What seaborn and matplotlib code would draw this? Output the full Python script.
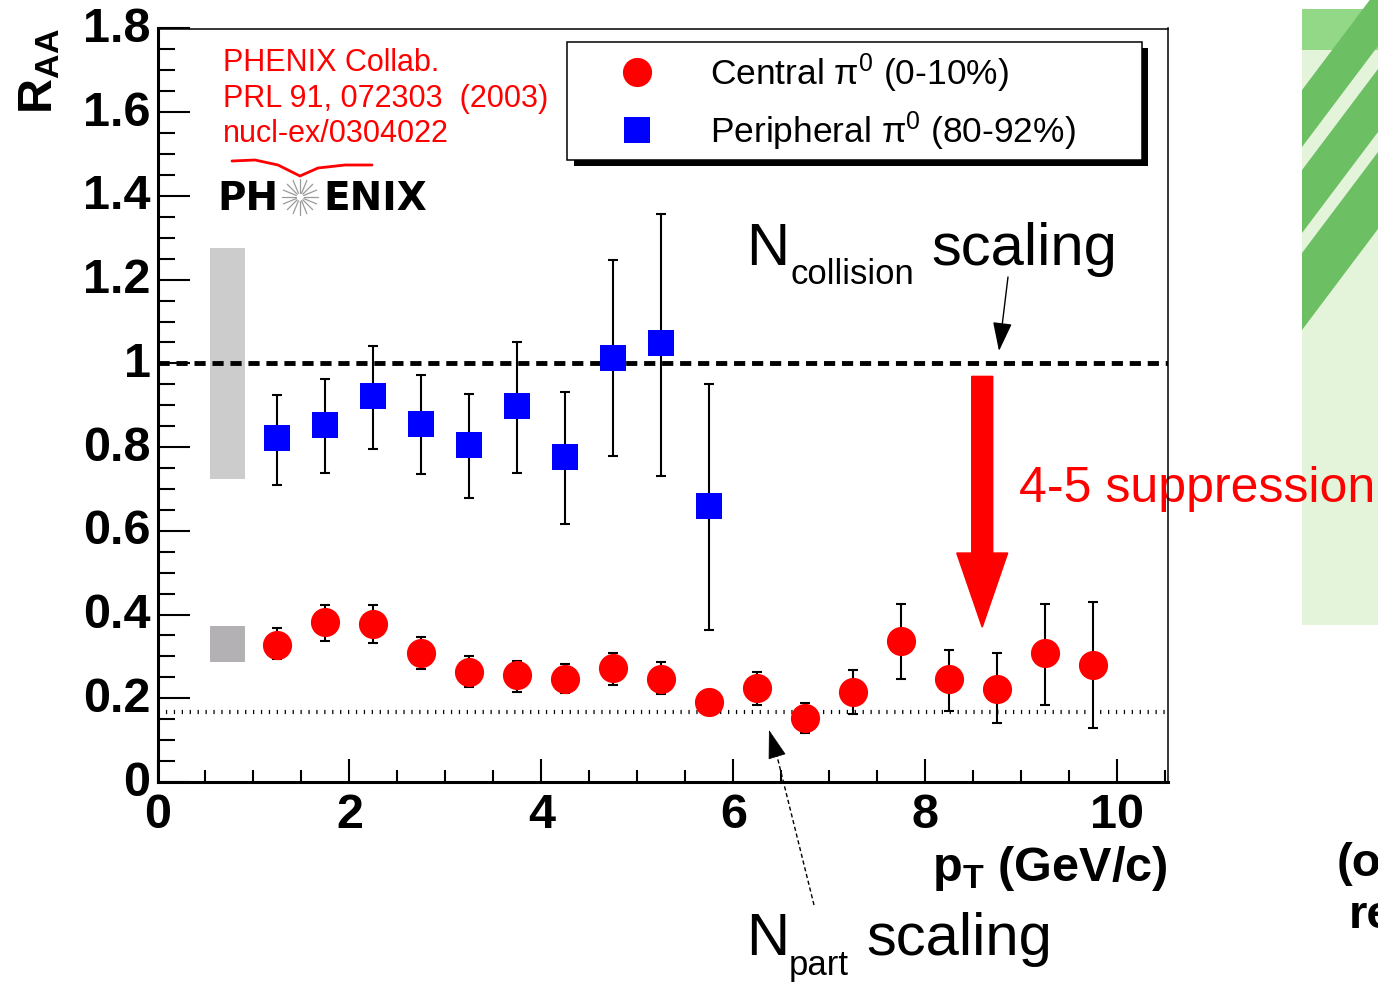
import numpy as np
import pandas as pd
import seaborn as sns
import matplotlib.pyplot as plt
from matplotlib.patches import Rectangle, Polygon, FancyArrow
from matplotlib.lines import Line2D
from matplotlib.transforms import ScaledTranslation

# ---- data ----
pt_central = [1.25, 1.75, 2.25, 2.75, 3.25, 3.75, 4.25, 4.75, 5.25,
              5.75, 6.25, 6.75, 7.25, 7.75, 8.25, 8.75, 9.25, 9.75]
raa_central = [0.327, 0.382, 0.377, 0.307, 0.263, 0.255, 0.247, 0.272, 0.246,
               0.190, 0.224, 0.153, 0.214, 0.338, 0.245, 0.223, 0.307, 0.280]
err_central_lo = [0.034, 0.045, 0.045, 0.036, 0.036, 0.041, 0.035, 0.041, 0.036,
                  0.030, 0.040, 0.035, 0.052, 0.093, 0.075, 0.083, 0.123, 0.152]
err_central_hi = [0.041, 0.040, 0.045, 0.039, 0.039, 0.034, 0.035, 0.037, 0.040,
                  0.030, 0.039, 0.035, 0.053, 0.087, 0.071, 0.084, 0.118, 0.149]

pt_periph = [1.25, 1.75, 2.25, 2.75, 3.25, 3.75, 4.25, 4.75, 5.25, 5.75]
raa_periph = [0.821, 0.852, 0.921, 0.856, 0.804, 0.899, 0.777, 1.013, 1.048, 0.659]
err_periph_lo = [0.112, 0.113, 0.125, 0.121, 0.125, 0.160, 0.160, 0.234, 0.317, 0.296]
err_periph_hi = [0.103, 0.111, 0.121, 0.117, 0.124, 0.152, 0.155, 0.234, 0.308, 0.291]

# normalisation uncertainty boxes
box_centres = [1.0, 0.33]
box_halfheights = [0.275, 0.043]
box_colors = ['#cccccc', '#b3b1b3']
box_x = 0.73
box_width = 0.37

ncoll_level = 1.0
npart_level = 0.168

xticks = [0, 2, 4, 6, 8, 10]
yticks = [0, 0.2, 0.4, 0.6, 0.8, 1.0, 1.2, 1.4, 1.6, 1.8]
ytick_labels = ['0', '0.2', '0.4', '0.6', '0.8', '1', '1.2', '1.4', '1.6', '1.8']

central = pd.DataFrame({'pt': pt_central, 'raa': raa_central})
periph = pd.DataFrame({'pt': pt_periph, 'raa': raa_periph})

# ---- style ----
sns.set_theme(style='white')
plt.rcParams['font.family'] = ['Liberation Sans', 'DejaVu Sans']
plt.rcParams['mathtext.default'] = 'regular'
plt.rcParams['text.color'] = 'black'
plt.rcParams['xtick.color'] = 'black'
plt.rcParams['ytick.color'] = 'black'

W, H = 1378, 982


def fx(p):
    return p / W


def fy(p):
    return 1 - p / H


fig = plt.figure(figsize=(W / 100, H / 100), dpi=100)
fig.patch.set_facecolor('white')
ax = fig.add_axes([fx(157.5), fy(782), (1168 - 157.5) / W, (782 - 28.5) / H])
ax.set_facecolor('white')

# grey boxes
for c, hh, col in zip(box_centres, box_halfheights, box_colors):
    ax.bar(box_x, 2 * hh, bottom=c - hh, width=box_width, color=col,
           edgecolor='none', zorder=1)

# reference lines
ax.axhline(ncoll_level, color='black', lw=3.5, dashes=(2.3, 1.4), zorder=2)
ax.axhline(npart_level, color='black', lw=3, dashes=(0.3, 1.6), zorder=2)

# error bars then markers
ax.errorbar(pt_periph, raa_periph, yerr=[err_periph_lo, err_periph_hi], fmt='none',
            ecolor='black', elinewidth=1.5, capsize=3.5, capthick=1.5, zorder=3)
ax.errorbar(pt_central, raa_central, yerr=[err_central_lo, err_central_hi], fmt='none',
            ecolor='black', elinewidth=1.5, capsize=3.5, capthick=1.5, zorder=3)
sns.scatterplot(data=periph, x='pt', y='raa', marker='s', s=18.5 ** 2, color='#0000ff',
                linewidth=0, ax=ax, zorder=4)
sns.scatterplot(data=central, x='pt', y='raa', marker='o', s=21 ** 2, color='#ff0000',
                linewidth=0, ax=ax, zorder=4)

# red suppression arrow
ax.add_patch(FancyArrow(8.594, 0.969, 0, 0.370 - 0.969, width=0.219, head_width=0.531,
                        head_length=0.177, length_includes_head=True, color='#ff0000',
                        zorder=5, clip_on=False))

ax.set_xlim(0, 10.53)
ax.set_ylim(0, 1.8)
ax.set_xlabel('')
ax.set_ylabel('')
ax.set_xticks(xticks)
ax.set_xticklabels([str(t) for t in xticks], fontsize=35, fontweight='bold')
ax.set_xticks(np.arange(0.5, 10.51, 0.5), minor=True)
ax.set_yticks(yticks)
ax.set_yticklabels(ytick_labels, fontsize=35, fontweight='bold')
ax.set_yticks(np.arange(0.05, 1.8, 0.05), minor=True)
ax.tick_params(axis='x', which='major', direction='in', length=16.5, width=1.5,
               color='black', labelcolor='black', pad=8, bottom=True, top=False)
ax.tick_params(axis='x', which='minor', direction='in', length=9, width=1.5,
               color='black', bottom=True, top=False)
ax.tick_params(axis='y', which='major', direction='in', length=23, width=1.5,
               color='black', labelcolor='black', pad=5, left=True, right=False)
ax.tick_params(axis='y', which='minor', direction='in', length=12, width=1.5,
               color='black', left=True, right=False)
# y labels sit a little above their ticks, as in the original
lift = ScaledTranslation(0, 4 / 100, fig.dpi_scale_trans)
for lab in ax.get_yticklabels():
    lab.set_transform(lab.get_transform() + lift)
for side in ['left', 'bottom']:
    ax.spines[side].set_linewidth(2.2)
    ax.spines[side].set_color('black')
for side in ['top', 'right']:
    ax.spines[side].set_linewidth(1.1)
    ax.spines[side].set_color('black')

# axis titles
fig.text(fx(40), fy(28), 'R$_{AA}$', rotation=90, ha='center', va='top',
         fontsize=35, fontweight='bold')
fig.text(fx(1168), fy(881), 'p$_T$ (GeV/c)', ha='right', va='baseline',
         fontsize=35, fontweight='bold')

# legend box with shadow
fig.patches.append(Rectangle((fx(574), fy(166)), (1148 - 574) / W, (166 - 48) / H,
                             transform=fig.transFigure, fc='black', ec='none', zorder=5))
fig.patches.append(Rectangle((fx(567), fy(160)), (1142 - 567) / W, (160 - 42) / H,
                             transform=fig.transFigure, fc='white', ec='black', lw=1.1,
                             zorder=6))
fig.add_artist(Line2D([fx(637)], [fy(72)], marker='o', ms=21, color='#ff0000',
                      mew=0, transform=fig.transFigure, zorder=7))
fig.add_artist(Line2D([fx(637)], [fy(130)], marker='s', ms=18.5, color='#0000ff',
                      mew=0, transform=fig.transFigure, zorder=7))
fig.text(fx(710), fy(85), 'Central π$^0$ (0-10%)', fontsize=25.5, va='baseline', zorder=8)
fig.text(fx(710), fy(143), 'Peripheral π$^0$ (80-92%)', fontsize=25.5, va='baseline',
         zorder=8)

# reference text
red = '#ff0000'
fig.text(fx(223), fy(71), 'PHENIX Collab.', color=red, fontsize=22, va='baseline')
fig.text(fx(223), fy(107), 'PRL 91, 072303  (2003)', color=red, fontsize=22, va='baseline')
fig.text(fx(223), fy(142), 'nucl-ex/0304022', color=red, fontsize=22, va='baseline')

# PHENIX logo
swoosh_x = [232, 255, 278, 300, 318, 345, 372]
swoosh_y = [161, 160, 165, 176, 168, 165, 165]
fig.add_artist(Line2D([fx(v) for v in swoosh_x], [fy(v) for v in swoosh_y], color=red,
                      lw=2, transform=fig.transFigure))
fig.text(fx(217), fy(210), 'PH', fontsize=28, fontweight='bold', family='DejaVu Sans',
         va='baseline')
fig.text(fx(323), fy(210), 'ENIX', fontsize=28, fontweight='bold', family='DejaVu Sans',
         va='baseline')
for ang in np.linspace(0, 2 * np.pi, 16, endpoint=False):
    x0, y0 = 300 + 4 * np.cos(ang), 197 + 4 * np.sin(ang)
    x1, y1 = 300 + 18 * np.cos(ang), 197 + 18 * np.sin(ang)
    fig.add_artist(Line2D([fx(x0), fx(x1)], [fy(y0), fy(y1)], color='#9a9a9a', lw=0.9,
                          transform=fig.transFigure))

# scaling annotations
fig.text(fx(746), fy(265), 'N', fontsize=43, va='baseline')
fig.text(fx(790), fy(284), 'collision', fontsize=25, va='baseline')
fig.text(fx(931), fy(265), 'scaling', fontsize=43, va='baseline')
ax.annotate('', xy=(999, H - 351), xytext=(1008, H - 277), xycoords='figure pixels',
            textcoords='figure pixels', annotation_clip=False,
            arrowprops=dict(arrowstyle='-|>,head_length=1.8,head_width=0.6',
                            mutation_scale=10, lw=1, color='black',
                            shrinkA=0, shrinkB=0))

fig.text(fx(746), fy(955), 'N', fontsize=43, va='baseline')
fig.text(fx(789), fy(975), 'part', fontsize=25, va='baseline')
fig.text(fx(866), fy(955), 'scaling', fontsize=43, va='baseline')
fig.add_artist(Line2D([fx(814), fx(776)], [fy(905), fy(752)], color='black', lw=1,
                      ls=(0, (3, 2)), transform=fig.transFigure))
ax.annotate('', xy=(769, H - 730), xytext=(776, H - 753), xycoords='figure pixels',
            textcoords='figure pixels', annotation_clip=False,
            arrowprops=dict(arrowstyle='-|>,head_length=1.9,head_width=0.6',
                            mutation_scale=10, lw=0.5, color='black',
                            shrinkA=0, shrinkB=0))

# decorative slide strip on the right (behind everything)
green_bg = '#e3f4db'
fig.patches.append(Rectangle((fx(1302), fy(625)), 76 / W, (625 - 9) / H,
                             transform=fig.transFigure, fc=green_bg, ec='none', zorder=-2))
fig.patches.append(Rectangle((fx(1302), fy(50)), 76 / W, 41 / H,
                             transform=fig.transFigure, fc='#93d887', ec='none', zorder=-2))
stripes = [(90, 147), (170, 233), (253, 330)]
for top, bot in stripes:
    pts = [(1302, top), (1378, top - 101), (1378, bot - 101), (1302, bot)]
    fig.patches.append(Polygon([(fx(a), fy(b)) for a, b in pts], closed=True,
                               transform=fig.transFigure, fc='#6dbf63', ec='none',
                               zorder=-1))

# suppression label (drawn under the axes frame)
ax.text(fx(1019), fy(502), '4-5 suppression', color=red, fontsize=36, va='baseline',
        transform=fig.transFigure, clip_on=False, zorder=2)

# slide text cut by the right edge, as in the original
fig.text(fx(1337), fy(876), '(o', fontsize=34, fontweight='bold', va='baseline')
fig.text(fx(1349), fy(928), 're', fontsize=34, fontweight='bold', va='baseline')

fig.savefig('out.png', dpi=100)
